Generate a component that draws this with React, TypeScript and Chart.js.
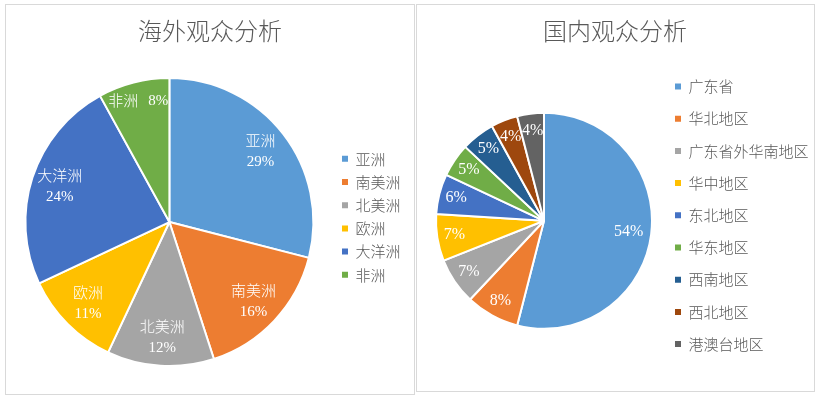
import { useEffect, useRef } from "react";
import { Chart, registerables } from "chart.js";

Chart.register(...registerables);

// ---------- data ----------
const overseasTitle = "海外观众分析";
const overseasLabels = ["亚洲", "南美洲", "北美洲", "欧洲", "大洋洲", "非洲"];
const overseasValues = [29, 16, 12, 11, 24, 8];

const domesticTitle = "国内观众分析";
const domesticLabels = [
  "广东省",
  "华北地区",
  "广东省外华南地区",
  "华中地区",
  "东北地区",
  "华东地区",
  "西南地区",
  "西北地区",
  "港澳台地区",
];
const domesticValues = [54, 8, 7, 7, 6, 5, 5, 4, 4];

const palette = [
  "#5B9BD5",
  "#ED7D31",
  "#A5A5A5",
  "#FFC000",
  "#4472C4",
  "#70AD47",
  "#255E91",
  "#9E480E",
  "#636363",
];

const CJK = "'Noto Sans CJK SC', 'Noto Sans', sans-serif";
const NUM = "'Liberation Serif', 'Noto Sans CJK SC', serif";
const TEXT_GRAY = "#595959";

// ---------- plugins ----------
const sliceLabels = {
  id: "sliceLabels",
  afterDatasetsDraw(chart: any, _args: any, opts: any) {
    const { ctx } = chart;
    const meta = chart.getDatasetMeta(0);
    const data = chart.data.datasets[0].data as number[];
    const labels = chart.data.labels as string[];
    const total = data.reduce((a, b) => a + b, 0);
    ctx.save();
    ctx.fillStyle = "#ffffff";
    ctx.textBaseline = "middle";
    meta.data.forEach((arc: any, i: number) => {
      const { x, y, startAngle, endAngle, outerRadius } = arc.getProps(
        ["x", "y", "startAngle", "endAngle", "outerRadius"],
        true
      );
      const share = data[i] / total;
      const pct = Math.round(share * 100) + "%";
      const mid = (startAngle + endAngle) / 2;
      const cjkFont = `300 ${opts.nameSize}px ${CJK}`;
      const numFont = `${opts.numSize}px ${NUM}`;
      if (!opts.showName) {
        const r = outerRadius * (share > 0.3 ? opts.bigFactor : opts.factor);
        ctx.font = numFont;
        ctx.textAlign = "center";
        ctx.fillText(pct, x + Math.cos(mid) * r, y + Math.sin(mid) * r);
      } else if (share < 0.1) {
        const r = outerRadius * opts.narrowFactor;
        const cx = x + Math.cos(mid) * r;
        const cy = y + Math.sin(mid) * r;
        ctx.font = cjkFont;
        const wName = ctx.measureText(labels[i]).width;
        ctx.font = numFont;
        const wPct = ctx.measureText(pct).width;
        const gap = opts.inlineGap;
        const left = cx - (wName + gap + wPct) / 2;
        ctx.textAlign = "left";
        ctx.font = cjkFont;
        ctx.fillText(labels[i], left, cy);
        ctx.font = numFont;
        ctx.fillText(pct, left + wName + gap, cy);
      } else {
        const r = outerRadius * opts.factor;
        const cx = x + Math.cos(mid) * r;
        const cy = y + Math.sin(mid) * r;
        ctx.textAlign = "center";
        ctx.font = cjkFont;
        ctx.fillText(labels[i], cx, cy - opts.lineGap / 2);
        ctx.font = numFont;
        ctx.fillText(pct, cx, cy + opts.lineGap / 2);
      }
    });
    ctx.restore();
  },
};

const titleShift = {
  id: "titleShift",
  afterLayout(chart: any, _args: any, opts: any) {
    const t = chart.titleBlock;
    if (t && opts && opts.dx) {
      t.left += opts.dx;
      t.right += opts.dx;
    }
  },
};

function legendLabels(chart: any) {
  const base = (Chart as any).overrides.pie.plugins.legend.labels.generateLabels(chart);
  return base.map((l: any) => ({ ...l, lineWidth: 0, strokeStyle: "rgba(0,0,0,0)" }));
}

function makeConfig(p: {
  title: string;
  labels: string[];
  values: number[];
  radius: number;
  padding: { left: number; right: number; top: number; bottom: number };
  titlePadTop: number;
  titlePadBottom: number;
  legendGap: number;
  titleDx: number;
  sliceOpts: any;
}): any {
  return {
    type: "pie",
    data: {
      labels: p.labels,
      datasets: [
        {
          data: p.values,
          backgroundColor: palette.slice(0, p.values.length),
          borderColor: "#ffffff",
          borderWidth: 2,
          radius: p.radius,
          clip: false,
        },
      ],
    },
    options: {
      responsive: false,
      animation: false,
      layout: { padding: p.padding },
      plugins: {
        title: {
          display: true,
          text: p.title,
          color: TEXT_GRAY,
          font: { family: CJK, size: 24, weight: 300, lineHeight: 1.2 },
          padding: { top: p.titlePadTop, bottom: p.titlePadBottom },
        },
        legend: {
          position: "right",
          align: "start",
          fullSize: false,
          labels: {
            boxWidth: 6,
            boxHeight: 6,
            padding: p.legendGap,
            color: TEXT_GRAY,
            font: { family: CJK, size: 15, weight: 300 },
            generateLabels: legendLabels,
          },
        },
        tooltip: { enabled: false },
        sliceLabels: p.sliceOpts,
        titleShift: { dx: p.titleDx },
      },
    },
    plugins: [sliceLabels, titleShift],
  };
}

function PieCanvas(props: { config: any; left: number; top: number; width: number; height: number }) {
  const ref = useRef<HTMLCanvasElement>(null);
  useEffect(() => {
    const chart = new Chart(ref.current as HTMLCanvasElement, props.config);
    return () => chart.destroy();
  }, []);
  return (
    <canvas
      ref={ref}
      width={props.width}
      height={props.height}
      style={{
        position: "absolute",
        left: props.left,
        top: props.top,
        width: props.width,
        height: props.height,
      }}
    />
  );
}

export default function App() {
  const overseasConfig = makeConfig({
    title: overseasTitle,
    labels: overseasLabels,
    values: overseasValues,
    radius: 144,
    padding: { left: 0, right: 4.5, top: 0, bottom: 93 },
    titlePadTop: 12.6,
    titlePadBottom: 97.7,
    legendGap: 8.2,
    titleDx: 2.2,
    sliceOpts: {
      showName: true,
      factor: 0.8,
      narrowFactor: 0.87,
      nameSize: 15,
      numSize: 15,
      lineGap: 22,
      inlineGap: 10,
    },
  });
  const domesticConfig = makeConfig({
    title: domesticTitle,
    labels: domesticLabels,
    values: domesticValues,
    radius: 108,
    padding: { left: 14.2, right: 0.5, top: 0, bottom: 14.2 },
    titlePadTop: 12.6,
    titlePadBottom: 16.4,
    legendGap: 17.2,
    titleDx: -9.4,
    sliceOpts: {
      showName: false,
      factor: 0.84,
      bigFactor: 0.79,
      nameSize: 15,
      numSize: 16,
      lineGap: 22,
      inlineGap: 10,
    },
  });

  const panel = (left: number, top: number, width: number, height: number) => ({
    position: "absolute" as const,
    left,
    top,
    width,
    height,
    boxSizing: "border-box" as const,
    border: "1px solid #D9D9D9",
    background: "#ffffff",
  });

  return (
    <div
      style={{
        position: "absolute",
        left: 0,
        top: 0,
        width: 819,
        height: 398,
        overflow: "hidden",
        background: "#ffffff",
      }}
    >
      <div style={panel(5, 4, 410, 391)} />
      <div style={panel(416, 4, 399, 388)} />
      <PieCanvas config={overseasConfig} left={5} top={4} width={410} height={390} />
      <PieCanvas config={domesticConfig} left={416} top={4} width={403} height={390} />
    </div>
  );
}
